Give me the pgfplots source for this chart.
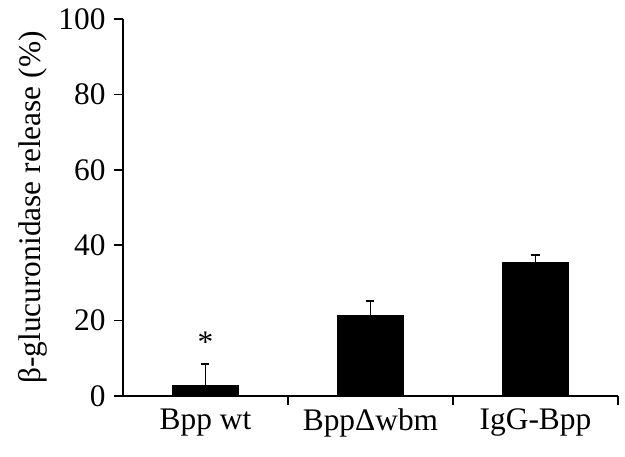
\documentclass[border=0pt]{standalone}
\usepackage{pgfplots}
\pgfplotsset{compat=1.18}
\usepackage{fontspec}
\setmainfont{Liberation Serif}
\begin{document}
\begin{tikzpicture}
\begin{axis}[
  scale only axis,
  width=495bp, height=377bp,
  xmin=-0.5, xmax=2.5,
  ymin=0, ymax=100,
  axis x line*=bottom,
  axis y line*=left,
  axis line style={line width=1.6bp},
  tick style={line width=1.6bp, black},
  tick align=outside,
  major tick length=9bp,
  ytick={0,20,40,60,80,100},
  xtick={0.5,1.5,2.5},
  xticklabels={},
  extra x ticks={0,1,2},
  extra x tick labels={Bpp wt, BppΔwbm, IgG-Bpp},
  extra x tick style={major tick length=0pt, tick label style={yshift=-9bp}},
  every tick label/.style={font=\fontsize{31.5}{34}\selectfont},
  /pgf/number format/assume math mode=true,
  yticklabel style={xshift=-5bp},
  ylabel={β-glucuronidase release (\%)},
  ylabel style={font=\fontsize{31.5}{34}\selectfont, yshift=4bp},
  clip=false,
]
\addplot[ybar, bar width=66bp, fill=black, draw=black,
  error bars/.cd, y dir=plus, y explicit,
  error bar style={line width=1.8bp, black},
  error mark options={rotate=90, mark size=4bp, line width=1.8bp, black}]
  coordinates {(0,2.8) +- (0,5.7) (1,21.3) +- (0,3.8) (2,35.4) +- (0,2.0)};
\node[font=\fontsize{31.5}{34}\selectfont] at (axis cs:0,14.3) {*};
\end{axis}
\pgfresetboundingbox
\path (-123bp,-61bp) rectangle (502bp,396bp);
\end{tikzpicture}
\end{document}
